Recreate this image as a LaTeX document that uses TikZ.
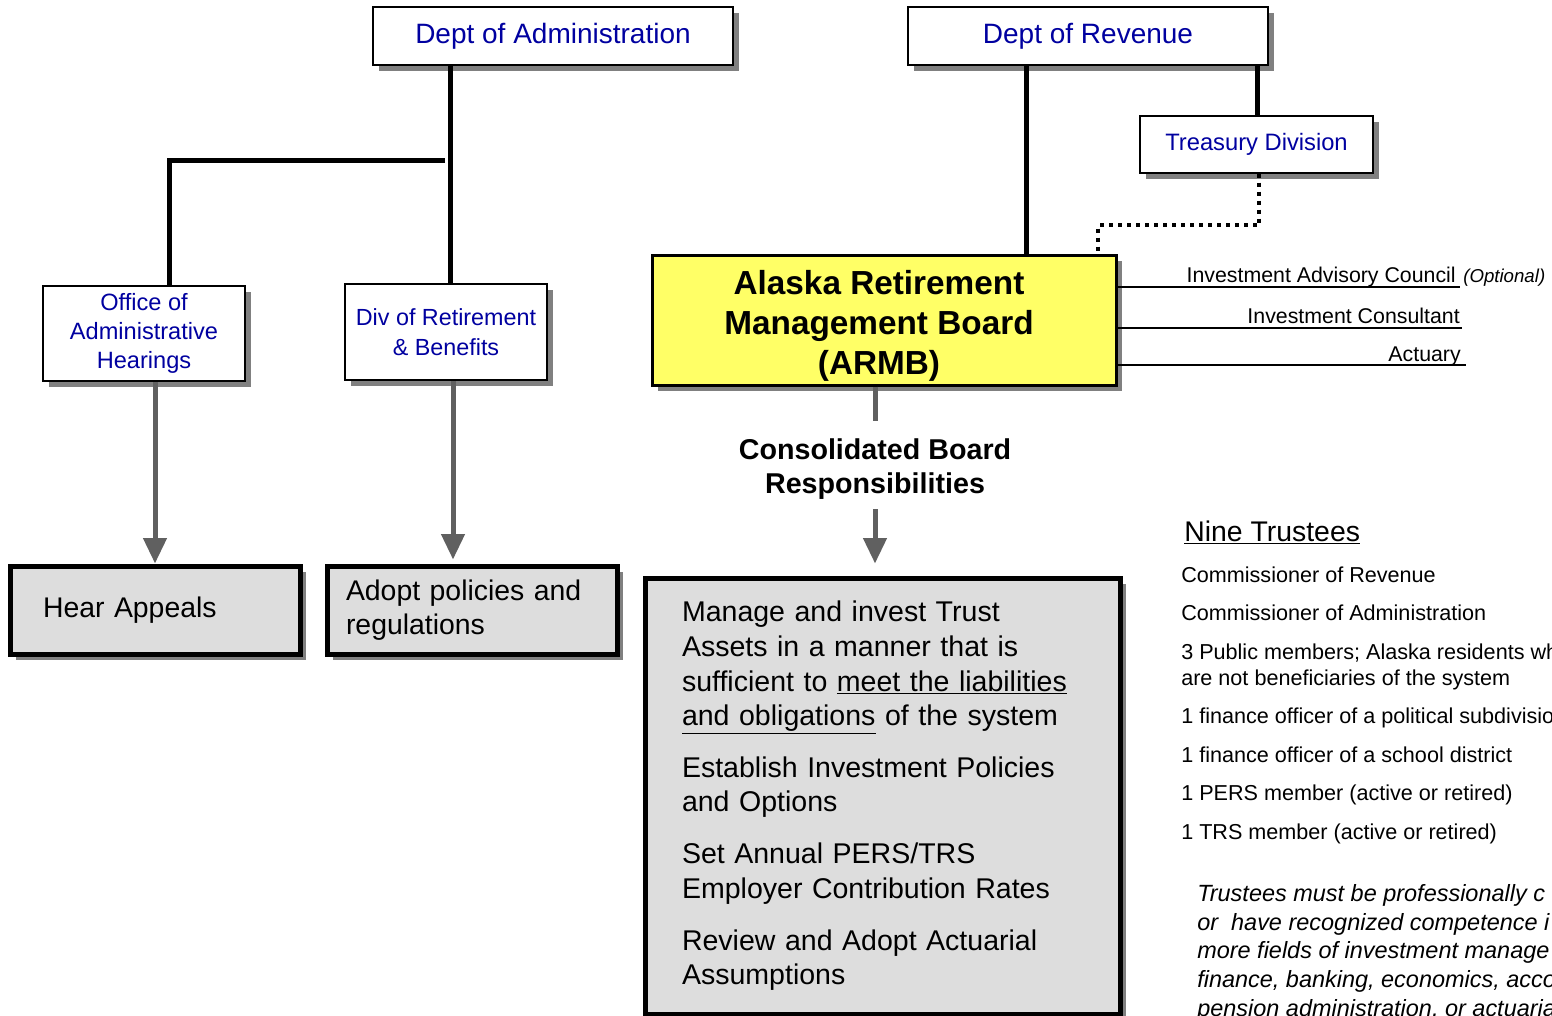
\documentclass[tikz,border=0pt]{standalone}
\usepackage{fontspec}
\setmainfont{Liberation Sans}
\usetikzlibrary{arrows.meta,shadows}
\definecolor{blu}{RGB}{0,0,160}
\definecolor{shadgray}{RGB}{128,128,128}
\definecolor{boxgray}{RGB}{221,221,221}
\definecolor{arrgray}{RGB}{96,96,96}
\definecolor{armbyellow}{RGB}{255,255,102}
\begin{document}
\begin{tikzpicture}[x=0.75pt,y=-0.75pt,
  shad/.style={drop shadow={shadow xshift=4.5pt,shadow yshift=-4.5pt,fill=shadgray,opacity=1}},
  whitebox/.style={draw=black,line width=1.5pt,fill=white,shad,text=blu,align=center,inner sep=0pt},
  graybox/.style={draw=black,line width=3.75pt,fill=boxgray,shad,align=left,inner ysep=0pt},
  conn/.style={line width=3.75pt,black},
  garrow/.style={line width=3.75pt,arrgray,-{Triangle[width=17pt,length=19pt]}},
  gline/.style={line width=3.75pt,arrgray},
  dotline/.style={line width=3pt,dash pattern=on 3pt off 3.75pt},
  uline/.style={line width=1.5pt,black},
  lbl/.style={inner sep=0pt,font=\fontsize{16}{19}\selectfont},
  item/.style={inner sep=0pt,anchor=base west,align=left,font=\fontsize{16.2}{19.5}\selectfont}
]
\useasboundingbox (0,0) rectangle (1552,1015);
\clip (0,0) rectangle (1552,1015);
\fill[white] (0,0) rectangle (1552,1015);

% top boxes
\node[whitebox,minimum width=270pt,minimum height=43.5pt,font=\fontsize{21}{25}\selectfont] (adm) at (553,36) {Dept of Administration};
\node[whitebox,minimum width=270pt,minimum height=43.5pt,font=\fontsize{21}{25}\selectfont] (rev) at (1088,36) {Dept of Revenue};
\node[whitebox,minimum width=174.75pt,minimum height=42.75pt,font=\fontsize{17.8}{21}\selectfont] (tre) at (1256.5,144) {Treasury Division};
\node[whitebox,minimum width=151.5pt,minimum height=71.25pt,font=\fontsize{17.7}{22}\selectfont] (oah) at (144,333.5) {Office of\\Administrative\\Hearings};
\node[whitebox,minimum width=151.5pt,minimum height=72pt,font=\fontsize{17.5}{22}\selectfont] (drb) at (446,332) {Div of Retirement\\\& Benefits};

% gray boxes
\node[graybox,text width=168pt,inner xsep=24.75pt,minimum height=66pt,font=\fontsize{21.3}{26}\selectfont] (hear) at (155,610) {Hear Appeals};
\node[graybox,text width=189pt,inner xsep=14.25pt,minimum height=66pt,font=\fontsize{21.3}{26}\selectfont] (adopt) at (472,610) {Adopt policies and\\regulations};

% ARMB
\node[draw=black,line width=2.25pt,fill=armbyellow,shad,minimum width=348pt,minimum height=97.5pt,inner sep=0pt] (armb) at (884,320) {};
\node[align=center,inner sep=0pt,font=\bfseries\fontsize{25}{30}\selectfont] (armbtxt) at (879,326) {Alaska Retirement\\Management Board\\(ARMB)};
\node[align=center,inner sep=0pt,font=\bfseries\fontsize{21.5}{26}\selectfont] (cbr) at (875,469) {Consolidated Board\\Responsibilities};

\node[graybox,text width=300.75pt,inner xsep=27.75pt,minimum height=327pt,font=\fontsize{21.4}{25.9}\selectfont] (main) at (882.5,796) {Manage and invest Trust\\Assets in a manner that is\\sufficient to \underline{meet the liabilities}\\\underline{and obligations} of the system\\[13pt]Establish Investment Policies\\and Options\\[13pt]Set Annual PERS/TRS\\Employer Contribution Rates\\[13pt]Review and Adopt Actuarial\\Assumptions};

% connectors
\coordinate (xA) at (450,0);
\draw[conn] (adm.south -| xA) -- (drb.north -| xA);
\coordinate (j1) at (445,160);
\coordinate (j2) at (169,160);
\draw[conn,line join=miter] (j1) -- (j2) -- (oah.north -| j2);
\coordinate (xR) at (1026,0);
\draw[conn] (rev.south -| xR) -- (armb.north -| xR);
\coordinate (xT) at (1257,0);
\draw[conn] (rev.south -| xT) -- (tre.north -| xT);
\coordinate (d1) at (1259,225);
\coordinate (d2) at (1098,225);
\draw[dotline] (tre.south -| d1) -- (d1) -- (d2) -- (armb.north -| d2);

\draw[garrow] (oah.south -| hear.north) -- (hear.north);
\coordinate (xD) at (453,0);
\draw[garrow,shorten >=3pt] (drb.south -| xD) -- (adopt.north -| xD);
\coordinate (a2) at (875,421);
\draw[gline] (armb.south -| a2) -- (a2);
\coordinate (a3) at (875,509);
\draw[garrow,shorten >=9pt] (a3) -- (main.north -| a3);

% advisory lines
\coordinate (r1) at (1460,287);
\coordinate (r2) at (1462,328);
\coordinate (r3) at (1466,365);
\draw[uline] (armb.east |- r1) -- (r1);
\draw[uline] (armb.east |- r2) -- (r2);
\draw[uline] (armb.east |- r3) -- (r3);
\node[lbl,anchor=base east] (iac) at (1456,282) {Investment Advisory Council};
\node[inner sep=0pt,anchor=base west,font=\itshape\fontsize{14}{17}\selectfont] (opt) at (1463,282) {(Optional)};
\node[lbl,anchor=base east] (icons) at (1460,323) {Investment Consultant};
\node[lbl,anchor=base east] (act) at (1461,361) {Actuary};

% trustees
\node[inner sep=0pt,anchor=base west,font=\fontsize{21.3}{26}\selectfont] (nine) at (1184,541) {\underline{Nine Trustees}};
\node[item] (t1) at (1181,582) {Commissioner of Revenue};
\node[item] (t2) at (1181,620) {Commissioner of Administration};
\node[item] (t3) at (1181,685) {3 Public members; Alaska residents who\\are not beneficiaries of the system};
\node[item] (t4) at (1181,723) {1 finance officer of a political subdivision};
\node[item] (t5) at (1181,762) {1 finance officer of a school district};
\node[item] (t6) at (1181,800) {1 PERS member (active or retired)};
\node[item] (t7) at (1181,839) {1 TRS member (active or retired)};
\node[inner sep=0pt,anchor=base west,align=left,font=\itshape\fontsize{17.6}{21.5}\selectfont] (quals) at (1197,1016) {Trustees must be professionally c\\or\ \ have recognized competence i\\more fields of investment manage\\finance, banking, economics, acco\\pension administration, or actuaria};
\end{tikzpicture}
\end{document}
